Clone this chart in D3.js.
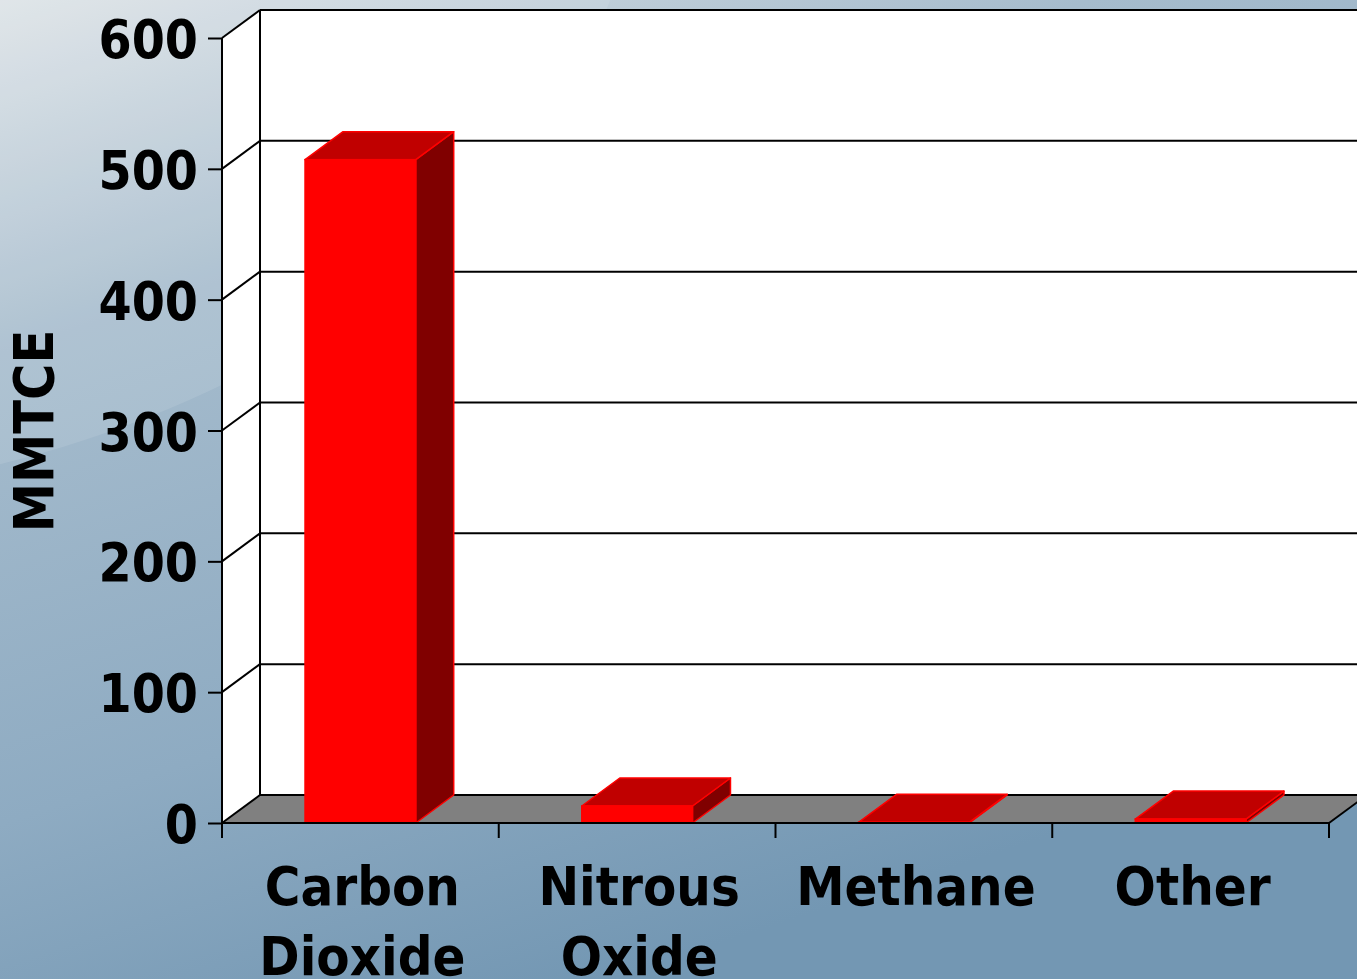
<!DOCTYPE html>
<html>
<head>
<meta charset="utf-8">
<script src="https://cdn.jsdelivr.net/npm/d3@7"></script>
<style>
  html, body { margin: 0; padding: 0; overflow: hidden; }
  text { font-family: "DejaVu Sans Condensed", "DejaVu Sans", sans-serif; font-weight: bold; fill: #000; }
</style>
</head>
<body>
<svg width="1357" height="979"></svg>
<script>
// chart data
var categories = ["Carbon Dioxide", "Nitrous Oxide", "Methane", "Other"];
var labelLines = [["Carbon", "Dioxide"], ["Nitrous", "Oxide"], ["Methane"], ["Other"]];
var values = [507, 13, 0.5, 3];
var yTicks = [0, 100, 200, 300, 400, 500, 600];
var yLabel = "MMTCE";

var svg = d3.select("svg"),
    W = 1357, H = 979;

// depth offset of the 3d box
var dx = 38, dy = -28;

var x = d3.scaleBand()
    .domain(categories)
    .range([222, 1329])
    .paddingInner(0.6)
    .paddingOuter(0.3);

var y = d3.scaleLinear()
    .domain([0, 600])
    .range([823, 38]);

var x0 = 222, x1 = 1329;

// background
var defs = svg.append("defs");
var grad = defs.append("linearGradient")
    .attr("id", "bg")
    .attr("x1", "0").attr("y1", "0")
    .attr("x2", "0.45").attr("y2", "1");
grad.append("stop").attr("offset", "0").attr("stop-color", "#dde3e7");
grad.append("stop").attr("offset", "0.3").attr("stop-color", "#a6bccd");
grad.append("stop").attr("offset", "0.7").attr("stop-color", "#8eabc2");
grad.append("stop").attr("offset", "1").attr("stop-color", "#7397b3");

svg.append("rect").attr("width", W).attr("height", H).attr("fill", "url(#bg)");

// light swoosh in the upper left
svg.append("ellipse")
    .attr("cx", -300).attr("cy", -200)
    .attr("rx", 950).attr("ry", 700)
    .attr("fill", "#ffffff")
    .attr("opacity", 0.1);

var chart = svg.append("g");

// back wall
chart.append("rect")
    .attr("x", x0 + dx).attr("y", y(600) + dy)
    .attr("width", W).attr("height", y(0) - y(600))
    .attr("fill", "#fff");

// left wall
chart.append("path")
    .attr("d", "M" + x0 + "," + y(0) + "L" + x0 + "," + y(600) +
        "L" + (x0 + dx) + "," + (y(600) + dy) + "L" + (x0 + dx) + "," + (y(0) + dy) + "Z")
    .attr("fill", "#fff");

// floor
chart.append("path")
    .attr("d", "M" + x0 + "," + y(0) + "L" + x1 + "," + y(0) +
        "L" + (x1 + dx) + "," + (y(0) + dy) + "L" + (x0 + dx) + "," + (y(0) + dy) + "Z")
    .attr("fill", "#808080");

// gridlines on back wall and left wall
chart.selectAll(".grid")
    .data(yTicks)
    .enter().append("line")
    .attr("x1", x0 + dx).attr("x2", W + 10)
    .attr("y1", function (d) { return y(d) + dy; })
    .attr("y2", function (d) { return y(d) + dy; })
    .attr("stroke", "#000").attr("stroke-width", 2);

chart.selectAll(".side")
    .data(yTicks)
    .enter().append("line")
    .attr("x1", x0).attr("x2", x0 + dx)
    .attr("y1", function (d) { return y(d); })
    .attr("y2", function (d) { return y(d) + dy; })
    .attr("stroke", "#000").attr("stroke-width", 2);

// back wall left edge
chart.append("line")
    .attr("x1", x0 + dx).attr("x2", x0 + dx)
    .attr("y1", y(600) + dy).attr("y2", y(0) + dy)
    .attr("stroke", "#000").attr("stroke-width", 2);

// floor right edge
chart.append("line")
    .attr("x1", x1).attr("x2", x1 + dx)
    .attr("y1", y(0)).attr("y2", y(0) + dy)
    .attr("stroke", "#000").attr("stroke-width", 2);

// bars
var bars = chart.selectAll(".bar")
    .data(categories)
    .enter().append("g")
    .attr("class", "bar");

bars.each(function (c, i) {
    var g = d3.select(this),
        bx = x(c), bw = x.bandwidth(),
        top = y(values[i]), bot = y(0);

    // side face
    g.append("path")
        .attr("d", "M" + (bx + bw) + "," + bot + "L" + (bx + bw) + "," + top +
            "L" + (bx + bw + dx) + "," + (top + dy) + "L" + (bx + bw + dx) + "," + (bot + dy) + "Z")
        .attr("fill", "#800000")
        .attr("stroke", "#ff0000").attr("stroke-width", 1.5)
        .attr("stroke-linejoin", "round");
    // top face
    g.append("path")
        .attr("d", "M" + bx + "," + top + "L" + (bx + bw) + "," + top +
            "L" + (bx + bw + dx) + "," + (top + dy) + "L" + (bx + dx) + "," + (top + dy) + "Z")
        .attr("fill", "#c00000")
        .attr("stroke", "#ff0000").attr("stroke-width", 1.5)
        .attr("stroke-linejoin", "round");
    // front face
    g.append("rect")
        .attr("x", bx).attr("y", top)
        .attr("width", bw).attr("height", bot - top)
        .attr("fill", "#ff0000")
        .attr("stroke", "#ff0000").attr("stroke-width", 1.5);
});

// y axis
var yAxis = chart.append("g")
    .attr("transform", "translate(" + x0 + ",0)")
    .call(d3.axisLeft(y).tickValues(yTicks).tickSize(14).tickPadding(10).tickSizeOuter(0));
yAxis.select(".domain").remove();
yAxis.selectAll(".tick line").attr("stroke", "#000").attr("stroke-width", 2);
yAxis.selectAll(".tick text")
    .attr("font-size", 53)
    .attr("font-family", "DejaVu Sans Condensed, DejaVu Sans, sans-serif")
    .attr("font-weight", "bold")
    .attr("fill", "#000")
    .attr("dy", "0.37em");

chart.append("line")
    .attr("x1", x0).attr("x2", x0)
    .attr("y1", y(600)).attr("y2", y(0) + 15)
    .attr("stroke", "#000").attr("stroke-width", 2);

// x axis
var xTicks = d3.range(categories.length + 1).map(function (i) { return x0 + i * x.step(); });
chart.append("line")
    .attr("x1", x0).attr("x2", x1)
    .attr("y1", y(0)).attr("y2", y(0))
    .attr("stroke", "#000").attr("stroke-width", 2);
chart.selectAll(".xtick")
    .data(xTicks)
    .enter().append("line")
    .attr("x1", function (d) { return d; })
    .attr("x2", function (d) { return d; })
    .attr("y1", y(0)).attr("y2", y(0) + 15)
    .attr("stroke", "#000").attr("stroke-width", 2);

var xl = chart.selectAll(".xlabel")
    .data(categories)
    .enter().append("text")
    .attr("text-anchor", "middle")
    .attr("font-size", 54)
    .attr("transform", function (c) { return "translate(" + (x(c) + x.bandwidth() / 2 + 2) + ",905)"; });
xl.selectAll("tspan")
    .data(function (c, i) { return labelLines[i]; })
    .enter().append("tspan")
    .attr("x", 0)
    .attr("y", function (d, j) { return j * 70; })
    .text(function (d) { return d; });

// y label
svg.append("text")
    .attr("transform", "translate(53,431) rotate(-90)")
    .attr("text-anchor", "middle")
    .attr("font-size", 55)
    .text(yLabel);
</script>
</body>
</html>
